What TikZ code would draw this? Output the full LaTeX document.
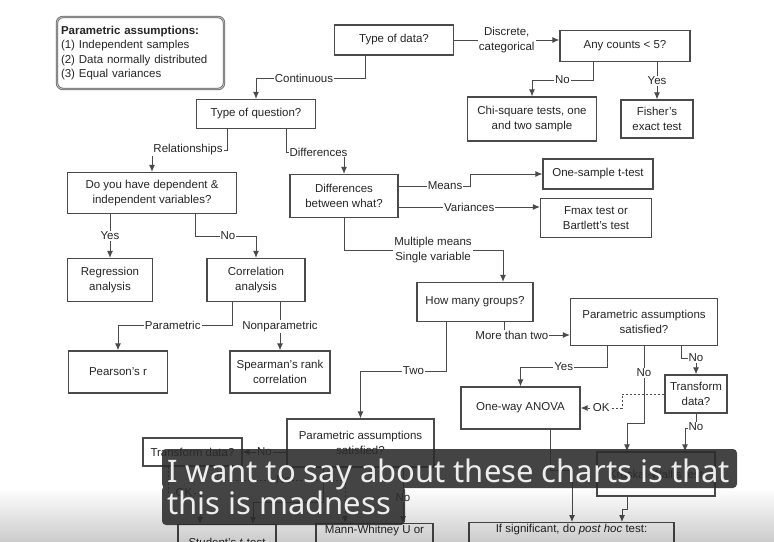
\documentclass[tikz,border=0pt]{standalone}
\usepackage{fontspec}
\setmainfont{Liberation Sans}
\newfontfamily\subfont{Noto Sans}
\usepackage{tikz}
\usetikzlibrary{arrows.meta}
\definecolor{linegray}{HTML}{4A4A4A}
\definecolor{textgray}{HTML}{262626}
\definecolor{subbg}{HTML}{2B2B2B}

\begin{document}
\begin{tikzpicture}[x=1pt,y=-1pt,>={Latex[length=7pt,width=6pt]},
  every node/.style={font=\fontsize{11.5}{14.5}\selectfont, align=center, text=textgray},
  box/.style={draw=linegray, line width=1.2pt, fill=white, inner sep=2pt},
  lbl/.style={fill=white, inner sep=1pt},
  conn/.style={->, draw=linegray, line width=1pt},
  okconn/.style={conn, dash pattern=on 2pt off 2pt},
  subtxt/.style={font=\subfont\fontsize{31}{36}\selectfont, text=white!93!black, inner sep=0pt}]
\useasboundingbox[fill=white] (0,0) rectangle (774,541);
% legend
\node[box,rounded corners=6pt,draw=black!60,double=black!22,double distance=0.8pt,line width=0.8pt,
  minimum width=167,minimum height=72,text width=159,inner xsep=4pt,align=left] (legend) at (140.5,53)
  {\textbf{Parametric assumptions:}\\(1) Independent samples\\(2) Data normally distributed\\(3) Equal variances};
% top part
\node[box,minimum width=119,minimum height=30] (tdata) at (394,40) {Type of data?};
\node[box,minimum width=130,minimum height=31] (counts) at (625,46) {Any counts < 5?};
\node[box,minimum width=119,minimum height=29] (tquest) at (256,114) {Type of question?};
\node[box,minimum width=129,minimum height=44] (chi) at (532,119) {Chi-square tests, one\\and two sample};
\node[box,minimum width=72,minimum height=38] (fisher) at (657,119) {Fisher's\\exact test};
% relationships
\node[box,minimum width=169,minimum height=41] (depind) at (152,193) {Do you have dependent \&\\independent variables?};
\node[box,minimum width=85,minimum height=43] (regr) at (110,280) {Regression\\analysis};
\node[box,minimum width=98,minimum height=43] (corr) at (256,280) {Correlation\\analysis};
\node[box,minimum width=99,minimum height=42] (pearson) at (118,372) {Pearson's r};
\node[box,minimum width=100,minimum height=42] (spear) at (280,372) {Spearman's rank\\correlation};
% differences
\node[box,minimum width=108,minimum height=43] (diffw) at (344,196) {Differences\\between what?};
\node[box,minimum width=110,minimum height=30] (onet) at (598,174) {One-sample t-test};
\node[box,minimum width=111,minimum height=39] (fmax) at (596,218) {Fmax test or\\Bartlett's test};
\node[box,minimum width=116,minimum height=39] (groups) at (475,302) {How many groups?};
\node[box,minimum width=147,minimum height=47] (parR) at (644,322) {Parametric assumptions\\satisfied?};
\node[box,minimum width=119,minimum height=42] (anova) at (520.5,408) {One-way ANOVA};
\node[box,minimum width=62,minimum height=38] (tdR) at (696,394) {Transform\\data?};
\node[box,minimum width=118,minimum height=44] (kw) at (656,474) {Kruskal-Wallis test};
\node[box,anchor=north,minimum width=205] (posthoc) at (571.5,522) {If significant, do \textit{post hoc} test:\\\mbox{}};
% two groups
\node[box,minimum width=147,minimum height=48] (parL) at (360.5,443) {Parametric assumptions\\satisfied?};
\node[box,minimum width=99,minimum height=28] (tdL) at (192.5,452) {Transform data?};
\node[box,anchor=north,minimum width=98,minimum height=36] (student) at (227,524) {Student's \textit{t}-test};
\node[box,anchor=north,minimum width=117] (mann) at (374.5,523) {Mann-Whitney U or\\\mbox{}};

\draw[conn] (tdata.east) -- node[lbl]{Discrete,\\categorical} (counts.west |- tdata.east);
\draw[conn] (365,0 |- tdata.south) |- node[lbl,pos=0.78]{Continuous} (256,78) -- (tquest.north);
\draw[conn] (593,0 |- counts.south) |- node[lbl,pos=0.75]{No} (532,80) -- (chi.north);
\draw[conn] (fisher.north |- counts.south) -- node[lbl]{Yes} (fisher.north);
\draw[conn] (227,0 |- tquest.south) |- node[lbl,pos=0.76]{Relationships} (152,150) -- (depind.north);
\draw[conn] (286,0 |- tquest.south) |- node[lbl,pos=0.78]{Differences} (344,152) -- (diffw.north);
\draw[conn] (regr.north |- depind.south) -- node[lbl]{Yes} (regr.north);
\draw[conn] (195,0 |- depind.south) |- node[lbl,pos=0.77]{No} (256,236) -- (corr.north);
\draw[conn] (232,0 |- corr.south) |- node[lbl,pos=0.76]{Parametric} (118,325) -- (pearson.north);
\draw[conn] (spear.north |- corr.south) -- node[lbl]{Nonparametric} (spear.north);
\draw[conn] (diffw.east |- 0,186) -- node[lbl,pos=0.65]{Means} (470,186) |- (onet.west);
\draw[conn] (diffw.east |- 0,207) -- node[lbl]{Variances} (fmax.west |- 0,207);
\draw[conn] (diffw.south) |- node[lbl,pos=0.78]{Multiple means\\Single variable} (503,250) -- (503,0 |- groups.north);
\draw[conn] (504,0 |- groups.south) |- node[lbl,pos=0.56]{More than two} (parR.west |- 0,335);
\draw[conn] (446,0 |- groups.south) |- node[lbl,pos=0.69]{Two} (360.5,371) -- (parL.north);
\draw[conn] (607,0 |- parR.south) |- node[lbl,pos=0.75]{Yes} (520.5,367) -- (anova.north);
\draw[conn] (644,0 |- parR.south) -- node[lbl,pos=0.35]{No} (644,423) -| (627,0 |- kw.north);
\draw[conn] (681,0 |- parR.south) |- node[lbl,pos=1]{No} (696,358) -- (tdR.north);
\draw[okconn] (tdR.west) -- (622,0 |- tdR.west) |- node[lbl,pos=0.75]{OK} (anova.east);
\draw[conn] (tdR.south) |- node[lbl,pos=0.45]{No} (685,428) -- (685,0 |- kw.north);
\draw[conn] (550,0 |- anova.south) |- (572,470) -- (572,0 |- posthoc.north);
\draw[conn] (627,0 |- kw.south) |- (622,509) -- (622,0 |- posthoc.north);
\draw[conn] (parL.west |- tdL.east) -- node[lbl]{No} (tdL.east);
\draw[okconn] (168,0 |- tdL.south) |- node[lbl,pos=0.75]{OK} (200,493) -- (200,0 |- student.north);
\draw[okconn] (217,0 |- tdL.south) |- node[lbl,pos=0.76]{No} (345,480) -- (345,0 |- mann.north);
\draw[conn] (403,0 |- parL.south) -- node[lbl,pos=0.55]{No} (403,0 |- mann.north);
\draw[conn] (323,0 |- parL.south) |- (253,502) -- (253,0 |- student.north);

% bottom fade and subtitle
\shade[blend mode=multiply,top color=white,bottom color=black!20] (0,488) rectangle (774,541);
\fill[subbg,opacity=0.88,rounded corners=4pt] (162,449) rectangle (737,488) (162,486) rectangle (405,525);
\node[subtxt,anchor=base west] (sub1) at (167,482) {I want to say about these charts is that};
\node[subtxt,anchor=base west] (sub2) at (167,514) {this is madness};
\end{tikzpicture}
\end{document}
